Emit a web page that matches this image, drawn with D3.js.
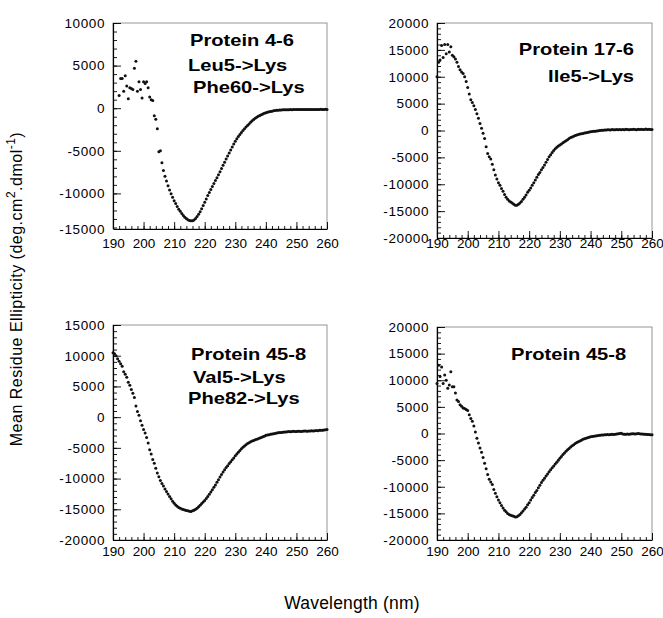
<!DOCTYPE html>
<html>
<head>
<meta charset="utf-8">
<script src="https://cdn.jsdelivr.net/npm/d3@7"></script>
<style>
  body { margin: 0; background: #fff; }
  svg { display: block; font-family: "Liberation Sans", Arial, Helvetica, sans-serif; }
</style>
</head>
<body>
<div id="chart"></div>
<script>
// CD spectra, sampled every 0.5 nm from 190 to 260 nm
const wavelength = d3.range(190, 260.25, 0.5);

const xTickValues = [190, 200, 210, 220, 230, 240, 250, 260];

// Protein 4-6  Leu5->Lys  Phe60->Lys
const protein46 = [
  null, null, null, null, 1500, 3500, 3500, 2000, 3800, 2600,
  1100, 2400, 2300, 2200, 4700, 5500, 2000, 3100, 2200, 1200,
  3100, 2900, 3100, 2400, 1300, 1000, 900, -900, -1300, -2400,
  -5100, -5000, -6400, -7300, -8000, -8550, -9100, -9600, -10050, -10450,
  -10850, -11200, -11550, -11850, -12100, -12350, -12600, -12800, -12950, -13080,
  -13170, -13220, -13200, -13120, -12950, -12700, -12450, -12150, -11800, -11420,
  -11050, -10650, -10250, -9900, -9550, -9200, -8850, -8500, -8150, -7800,
  -7450, -7070, -6700, -6330, -5950, -5600, -5250, -4900, -4550, -4200,
  -3880, -3600, -3330, -3100, -2850, -2620, -2400, -2200, -2020, -1840,
  -1650, -1480, -1320, -1180, -1060, -950, -850, -760, -680, -600,
  -540, -480, -430, -390, -350, -310, -280, -250, -230, -210,
  -200, -190, -180, -180, -170, -170, -160, -170, -160, -160,
  -150, -160, -150, -160, -150, -150, -140, -150, -150, -140,
  -150, -140, -140, -150, -140, -140, -130, -140, -140, -130,
  -140
];

// Protein 17-6  Ile5->Lys
const protein176 = [
  10000, 12700, 13100, 15800, 13600, 16000, 14300, 16000, 14600, 15600,
  14000, 13700, 13300, 12700, 11900, 11300, 10900, 10600, 10000, 9100,
  8000, 6800, 5700, 5200, 4600, 3900, 3100, 2300, 1300, 400,
  -500, -1500, -3000, -4300, -4900, -5300, -6300, -7300, -8300, -9000,
  -9700, -10200, -10800, -11300, -11900, -12400, -12800, -13100, -13300, -13500,
  -13700, -13900, -13900, -13700, -13500, -13200, -12800, -12400, -12000, -11500,
  -11100, -10700, -10200, -9700, -9200, -8700, -8200, -7800, -7300, -6900,
  -6400, -5900, -5400, -4900, -4500, -4100, -3700, -3400, -3100, -2900,
  -2700, -2500, -2300, -2100, -1900, -1700, -1500, -1300, -1200, -1050,
  -950, -850, -750, -650, -600, -550, -450, -400, -350, -300,
  -250, -200, -150, -120, -80, -40, 0, 30, 60, 80,
  100, 120, 150, 100, 180, 140, 120, 200, 150, 170,
  130, 190, 160, 220, 180, 150, 200, 170, 250, 190,
  160, 210, 180, 230, 200, 170, 260, 190, 220, 180,
  200
];

// Protein 45-8  Val5->Lys  Phe82->Lys
const protein458mut = [
  10500, 10300, 10000, 9500, 9100, 8700, 8300, 7400, 7000, 6500,
  5700, 5200, 4500, 3900, 3200, 1800, 900, 300, -600, -1300,
  -2000, -2600, -3300, -4200, -5300, -6000, -6900, -7500, -8300, -9100,
  -9700, -10300, -10800, -11200, -11700, -12100, -12500, -12900, -13300, -13700,
  -14000, -14300, -14500, -14700, -14850, -14950, -15050, -15100, -15200, -15250,
  -15300, -15350, -15250, -15150, -15000, -14850, -14600, -14350, -14050, -13800,
  -13550, -13250, -12900, -12550, -12200, -11800, -11400, -11050, -10600, -10200,
  -9750, -9350, -8950, -8550, -8200, -7900, -7550, -7250, -6950, -6650,
  -6300, -6000, -5700, -5450, -5150, -4900, -4700, -4500, -4300, -4150,
  -4000, -3900, -3800, -3700, -3600, -3500, -3400, -3300, -3200, -3100,
  -2950, -2900, -2850, -2800, -2750, -2700, -2650, -2600, -2550, -2500,
  -2480, -2450, -2420, -2400, -2380, -2350, -2380, -2330, -2300, -2350,
  -2320, -2300, -2280, -2320, -2300, -2270, -2250, -2300, -2260, -2240,
  -2200, -2250, -2220, -2180, -2200, -2150, -2120, -2150, -2100, -2050,
  -2000
];

// Protein 45-8
const protein458 = [
  9400, 12800, 10700, 12500, 9400, 11000, 10000, 8500, 9100, 11600,
  8800, 8800, 7600, 6300, 6000, 5400, 5100, 4800, 4700, 4500,
  4300, 3500, 2800, 2300, 1400, 300, -900, -1800, -2700, -3500,
  -4500, -5600, -6600, -7700, -8600, -9100, -9600, -10500, -11200, -11900,
  -12500, -13000, -13500, -14000, -14400, -14700, -15000, -15200, -15350, -15450,
  -15550, -15700, -15650, -15450, -15200, -14900, -14550, -14200, -13850, -13400,
  -13000, -12500, -12000, -11600, -11100, -10700, -10200, -9700, -9200, -8800,
  -8400, -8000, -7600, -7200, -6800, -6450, -6100, -5750, -5400, -5000,
  -4650, -4300, -3950, -3650, -3350, -3050, -2800, -2550, -2300, -2100,
  -1900, -1700, -1550, -1400, -1250, -1100, -1000, -900, -800, -700,
  -620, -550, -500, -450, -400, -360, -320, -300, -280, -250,
  -230, -200, -220, -180, -150, -190, -120, -100, -60, 0,
  50, -80, -150, -120, -100, -130, -90, -60, -40, -80,
  -50, -20, -70, -100, -80, -120, -150, -180, -200, -230,
  -250
];

const yTicks46  = [-15000, -10000, -5000, 0, 5000, 10000];
const yTicks176 = [-20000, -15000, -10000, -5000, 0, 5000, 10000, 15000, 20000];
const yTicks458mut = [-20000, -15000, -10000, -5000, 0, 5000, 10000, 15000];
const yTicks458 = [-20000, -15000, -10000, -5000, 0, 5000, 10000, 15000, 20000];

const labels46  = ["Protein 4-6", "Leu5->Lys", "Phe60->Lys"];
const labels176 = ["Protein 17-6", "Ile5->Lys"];
const labels458mut = ["Protein 45-8", "Val5->Lys", "Phe82->Lys"];
const labels458 = ["Protein 45-8"];

const W = 663, H = 618;
const svg = d3.select("#chart").append("svg").attr("width", W).attr("height", H);

// layout of the four panels; scaleBottom is where the lowest y tick value maps
// (panel 1's frame stops a little above its -15000 mark in the original)
const panels = [
  { values: protein46, yTicks: yTicks46, labels: labels46,
    left: 113, right: 327, top: 23, bottom: 229, scaleBottom: 236, xLabelY: 248,
    text: [[190, 46, "start"], [188, 71, "start"], [193, 93, "start"]] },
  { values: protein176, yTicks: yTicks176, labels: labels176,
    left: 437, right: 652, top: 23, bottom: 238, xLabelY: 248,
    text: [[634, 55, "end"], [634, 82, "end"]] },
  { values: protein458mut, yTicks: yTicks458mut, labels: labels458mut,
    left: 113, right: 327, top: 325, bottom: 540, xLabelY: 556,
    text: [[191, 360, "start"], [193, 383, "start"], [188, 404, "start"]] },
  { values: protein458, yTicks: yTicks458, labels: labels458,
    left: 437, right: 652, top: 327, bottom: 540, xLabelY: 556,
    text: [[511, 360, "start"]] }
];

panels.forEach(drawPanel);

function drawPanel(p) {
  const yDomain = d3.extent(p.yTicks);
  const x = d3.scaleLinear().domain([190, 260]).range([p.left, p.right]);
  const y = d3.scaleLinear().domain(yDomain).range([p.scaleBottom || p.bottom, p.top]);
  const g = svg.append("g");

  // frame (top and right edges are light in the original)
  g.append("rect")
    .attr("x", p.left).attr("y", p.top)
    .attr("width", p.right - p.left).attr("height", p.bottom - p.top)
    .attr("fill", "none").attr("stroke", "#8a8a8a").attr("stroke-width", 0.9);

  // x minor ticks every 2 nm, inward
  g.append("g")
    .attr("transform", `translate(0,${p.bottom})`)
    .call(d3.axisBottom(x).tickValues(d3.range(190, 261, 2)).tickSize(-3).tickSizeOuter(0).tickFormat(""))
    .call(s => s.select(".domain").remove());

  // x major ticks + labels
  const gx = g.append("g")
    .attr("transform", `translate(0,${p.bottom})`)
    .call(d3.axisBottom(x).tickValues(xTickValues).tickSize(-7).tickSizeOuter(0).tickFormat(d => String(d)));
  gx.selectAll(".tick text")
    .attr("y", p.xLabelY - p.bottom).attr("dy", null)
    .attr("font-size", 13.5).attr("fill", "#000")
    .attr("font-family", "'Liberation Sans', Arial, sans-serif");

  // y minor ticks every 1000, inward (only those inside the frame)
  const minor = d3.range(yDomain[0], yDomain[1] + 1, 1000).filter(v => y(v) <= p.bottom + 0.5);
  g.append("g")
    .attr("transform", `translate(${p.left},0)`)
    .call(d3.axisLeft(y).tickValues(minor).tickSize(-4).tickSizeOuter(0).tickFormat(""))
    .call(s => s.select(".domain").remove());

  // y major ticks + labels
  const gy = g.append("g")
    .attr("transform", `translate(${p.left},0)`)
    .call(d3.axisLeft(y).tickValues(p.yTicks).tickSize(-8).tickSizeOuter(0).tickPadding(8).tickFormat(d => String(d)));
  gy.select(".domain").attr("d", `M0.5,${p.bottom}V${p.top}`);
  gy.selectAll(".tick")
    .filter(d => y(d) > p.bottom + 0.5)
    .attr("transform", `translate(0,${p.bottom + 1})`)
    .select("line").remove();
  gy.selectAll(".tick text")
    .attr("font-size", 13.5).attr("fill", "#000")
    .attr("letter-spacing", 0.6)
    .attr("font-family", "'Liberation Sans', Arial, sans-serif");

  g.selectAll(".domain").attr("stroke", "#000").attr("stroke-width", 1.2);
  g.selectAll(".tick line").attr("stroke", "#000").attr("stroke-width", 0.9);

  // data points
  const pts = wavelength.map((w, i) => ({ w, v: p.values[i] })).filter(d => d.v !== null);
  g.append("g").selectAll("circle")
    .data(pts)
    .join("circle")
      .attr("cx", d => x(d.w))
      .attr("cy", d => y(d.v))
      .attr("r", 1.5)
      .attr("fill", "#111");

  // annotation text
  p.labels.forEach((t, i) => {
    const [tx, ty, anchor] = p.text[i];
    g.append("text")
      .attr("transform", `translate(${tx},${ty}) scale(1.22,1)`)
      .attr("text-anchor", anchor)
      .attr("font-size", 16.5)
      .attr("font-weight", "bold")
      .attr("fill", "#000")
      .text(t);
  });
}

// axis titles
const yTitle = svg.append("text")
  .attr("transform", "translate(22,289) rotate(-90)")
  .attr("text-anchor", "middle")
  .attr("font-size", 16)
  .attr("letter-spacing", 0.5)
  .attr("fill", "#000");
yTitle.append("tspan").text("Mean Residue Ellipticity (deg.cm");
yTitle.append("tspan").attr("baseline-shift", "super").attr("font-size", 12).text("2");
yTitle.append("tspan").text(".dmol");
yTitle.append("tspan").attr("baseline-shift", "super").attr("font-size", 12).text("-1");
yTitle.append("tspan").text(")");

svg.append("text")
  .attr("x", 352).attr("y", 609)
  .attr("text-anchor", "middle")
  .attr("font-size", 17.5)
  .attr("letter-spacing", 0.2)
  .attr("fill", "#000")
  .text("Wavelength (nm)");
</script>
</body>
</html>
